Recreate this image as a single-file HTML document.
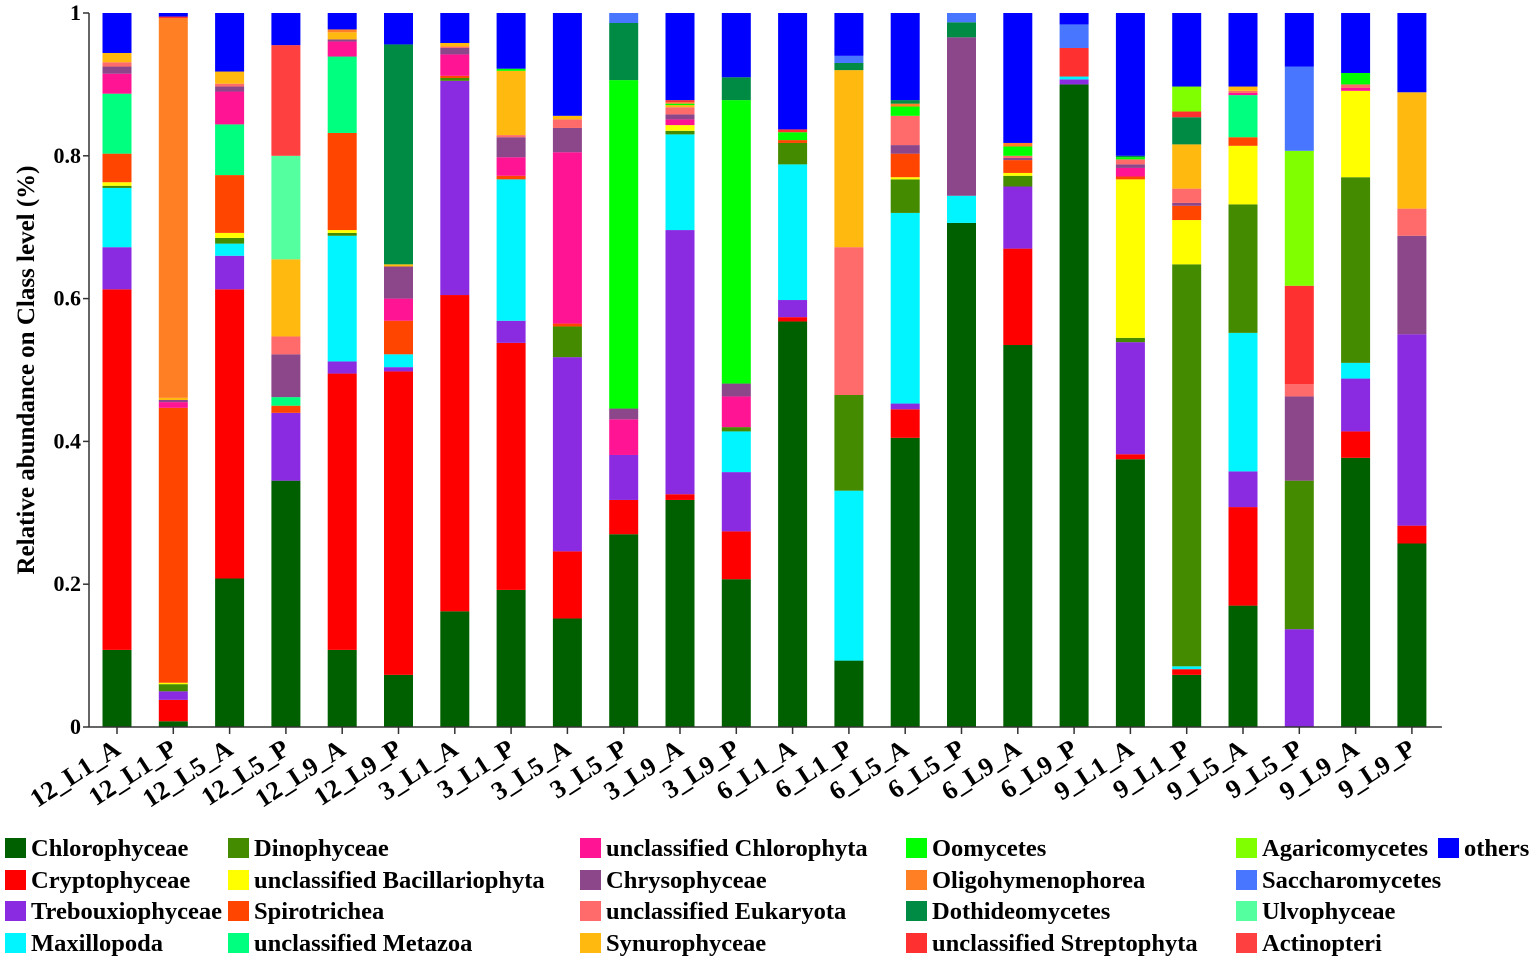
<!DOCTYPE html>
<html><head><meta charset="utf-8">
<style>
body{margin:0;background:#fff;width:1535px;height:961px;overflow:hidden}
svg{display:block;font-family:"Liberation Serif",serif;font-weight:bold}
</style></head>
<body>
<svg id="chart" width="1535" height="961" xmlns="http://www.w3.org/2000/svg"></svg>
<script>
const categories=["12_L1_A","12_L1_P","12_L5_A","12_L5_P","12_L9_A","12_L9_P","3_L1_A","3_L1_P","3_L5_A","3_L5_P","3_L9_A","3_L9_P","6_L1_A","6_L1_P","6_L5_A","6_L5_P","6_L9_A","6_L9_P","9_L1_A","9_L1_P","9_L5_A","9_L5_P","9_L9_A","9_L9_P"];
const seriesNames=["Chlorophyceae","Cryptophyceae","Trebouxiophyceae","Maxillopoda","Dinophyceae","unclassified Bacillariophyta","Spirotrichea","unclassified Metazoa","unclassified Chlorophyta","Chrysophyceae","unclassified Eukaryota","Synurophyceae","Oomycetes","Oligohymenophorea","Dothideomycetes","unclassified Streptophyta","Agaricomycetes","Saccharomycetes","Ulvophyceae","Actinopteri","others"];
const seriesColors=["#006000","#ff0000","#8a2be2","#00f5ff","#458b00","#ffff00","#ff4500","#00ff7f","#ff1493","#8b4789","#ff6a6a","#ffb90f","#00ff00","#ff7f24","#008b45","#ff3030","#7fff00","#4876ff","#54ff9f","#ff4040","#0000ff"];
const chlorophyceae=[.108,.008,.208,.345,.108,.073,.162,.192,.152,.27,.318,.207,.568,.093,.405,.706,.535,.9,.375,.073,.17,0,.377,.257];
const cryptophyceae=[.505,.03,.405,0,.387,.425,.443,.346,.094,.048,.008,.067,.006,0,.04,0,.135,0,.007,.008,.138,0,.037,.025];
const trebouxiophyceae=[.059,.012,.047,.095,.017,.006,.3,.031,.272,.063,.37,.083,.024,0,.008,0,.087,.007,.157,0,.05,.137,.074,.268];
const maxillopoda=[.083,0,.017,0,.176,.018,0,.198,0,0,.134,.057,.19,.238,.267,.038,0,.004,0,.004,.194,0,.022,0];
const dinophyceae=[.003,.01,.008,0,.004,0,.004,0,.043,0,.005,.006,.03,.134,.047,0,.015,0,.006,.563,.18,.208,.26,0];
const bacillariophyta=[.005,.002,.007,0,.004,0,0,0,0,0,.008,0,0,0,.003,0,.004,0,.222,.062,.082,0,.121,0];
const spirotrichea=[.04,.385,.081,.01,.136,.047,.003,.005,.004,0,0,0,.004,0,.033,0,.018,0,.004,.02,.012,0,0,0];
const metazoa=[.084,0,.071,.012,.107,0,0,0,0,0,0,0,0,0,0,0,0,0,0,0,.059,0,0,0];
const chlorophyta=[.028,.008,.046,0,.021,.031,.03,.026,.24,.05,.008,.043,0,0,0,0,0,0,.012,0,.003,0,.004,0];
const chrysophyceae=[.01,.003,.007,.06,.003,.045,.009,.028,.034,.015,.007,.018,0,0,.012,.222,.003,0,.005,.004,0,.118,0,.138];
const eukaryota=[.006,0,.004,.025,0,0,.002,.003,.012,0,.01,0,0,.207,.041,0,.003,0,.007,.02,.003,.017,.005,.038];
const synurophyceae=[.013,.003,.017,.108,.01,.003,.005,.09,.005,0,.003,0,0,.248,0,0,0,0,0,.062,.006,0,0,.163];
const oomycetes=[0,0,0,0,0,0,0,.003,0,.46,.002,.397,.011,0,.013,0,.013,0,.003,0,0,0,.016,0];
const oligohymenophorea=[0,.532,0,0,.004,0,0,0,0,0,.002,0,0,0,.004,0,.005,0,0,0,0,0,0,0];
const dothideomycetes=[0,0,0,0,0,.308,0,0,0,.08,0,.032,0,.01,.005,.021,0,0,.002,.038,0,0,0,0];
const streptophyta=[0,.002,0,0,0,0,0,0,0,0,.003,0,.004,0,0,0,0,.04,0,.008,0,.138,0,0];
const agaricomycetes=[0,0,0,0,0,0,0,0,0,0,0,0,0,0,0,0,0,0,0,.035,0,.189,0,0];
const saccharomycetes=[0,0,0,0,0,0,0,0,0,.014,0,0,0,.01,0,.013,0,.033,0,0,0,.118,0,0];
const ulvophyceae=[0,0,0,.145,0,0,0,0,0,0,0,0,0,0,0,0,0,0,0,0,0,0,0,0];
const actinopteri=[0,0,0,.155,0,0,0,0,0,0,0,0,0,0,0,0,0,0,0,0,0,0,0,0];
const yTicks=[0,0.2,0.4,0.6,0.8,1];
const yTickLabels=["0","0.2","0.4","0.6","0.8","1"];

const seriesData=[chlorophyceae,cryptophyceae,trebouxiophyceae,maxillopoda,dinophyceae,bacillariophyta,spirotrichea,metazoa,chlorophyta,chrysophyceae,eukaryota,synurophyceae,oomycetes,oligohymenophorea,dothideomycetes,streptophyta,agaricomycetes,saccharomycetes,ulvophyceae,actinopteri];
const NS="http://www.w3.org/2000/svg";
const svg=document.getElementById('chart');
const X0=89,Y0=727,Y1=13,STEP=56.3,FIRST=117,BW=29;
const yScale=v=>Y0-(Y0-Y1)*v;
const xScale=i=>FIRST+i*STEP;
function mk(tag,attrs,parent){const e=document.createElementNS(NS,tag);for(const k in attrs)e.setAttribute(k,attrs[k]);(parent||svg).appendChild(e);return e;}

const bars=mk('g',{});


categories.forEach((c,i)=>{
  let cum=0;
  const g=mk('g',{},bars);
  
  
  const vals=seriesData.map(s=>s[i]);
  const sum=vals.reduce((a,b)=>a+b,0);
  vals.push(Math.max(0,1-sum));
  vals.forEach((v,s)=>{
    if(v<=0)return;
    const y1=yScale(cum+v),y0=yScale(cum);
    const r=mk('rect',{x:xScale(i)-BW/2,y:y1,width:BW,height:y0-y1,fill:seriesColors[s]},g);
    
    
    cum+=v;
  });
});

const ax=mk('g',{});


mk('line',{x1:X0,y1:Y1,x2:X0,y2:Y0,stroke:'#333','stroke-width':1.5},ax);
mk('line',{x1:X0,y1:Y0,x2:FIRST+23*STEP+30,y2:Y0,stroke:'#333','stroke-width':1.5},ax);
yTicks.forEach((t,k)=>{
  mk('line',{x1:X0-6,y1:yScale(t),x2:X0,y2:yScale(t),stroke:'#333','stroke-width':1.5},ax);
  const tx=mk('text',{x:X0-8,y:yScale(t)+7,'text-anchor':'end','font-size':22},ax);
  tx.textContent=yTickLabels[k];
  
  
});
categories.forEach((c,i)=>{
  mk('line',{x1:xScale(i),y1:Y0,x2:xScale(i),y2:Y0+7,stroke:'#333','stroke-width':1.5},ax);
  const x=xScale(i)+5,y=753;
  const tx=mk('text',{x:x,y:y,'text-anchor':'end','font-size':26,transform:`rotate(-33 ${x} ${y})`},ax);
  tx.textContent=c;
  
  
});
const yt=mk('text',{x:34,y:370,'text-anchor':'middle','font-size':25,transform:'rotate(-90 34 370)'});
yt.textContent='Relative abundance on Class level (%)';



const lg=mk('g',{});


const colX=[5,228,580,906,1236,1438];
const rowY=[848,880,911,943];
seriesNames.forEach((n,s)=>{
  const col=Math.floor(s/4),row=s%4;
  const e=mk('g',{},lg);
  
  
  mk('rect',{x:colX[col],y:rowY[row]-10,width:21,height:20,fill:seriesColors[s]},e);
  const t=mk('text',{x:colX[col]+26,y:rowY[row]+8,'font-size':24.5},e);
  t.textContent=n;
});
</script>
</body></html>
